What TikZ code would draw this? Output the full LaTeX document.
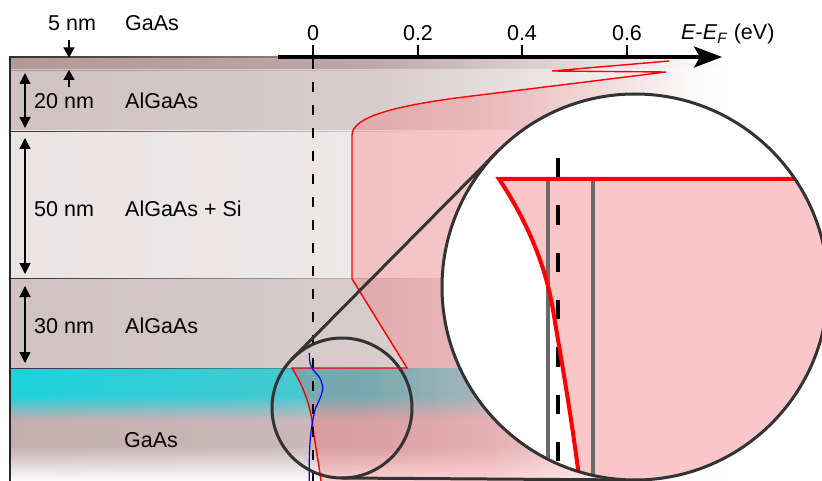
\documentclass[tikz,border=0pt]{standalone}
\usepackage{fontspec}
\setmainfont{Liberation Sans}
\usetikzlibrary{arrows.meta,fadings}
\tikzfading[name=fadeR, left color=transparent!0, right color=transparent!100]
\tikzfading[name=fadeRM, left color=transparent!0, right color=transparent!100, middle color=transparent!0]
\tikzfading[name=fadeD, top color=transparent!0, bottom color=transparent!100]
\tikzfading[name=fadeU, top color=transparent!100, bottom color=transparent!0]
\definecolor{cLa}{RGB}{178,152,153}
\definecolor{cLb}{RGB}{208,194,195}
\definecolor{cLc}{RGB}{234,228,229}
\definecolor{cGa}{RGB}{196,174,176}
\definecolor{cCy}{RGB}{28,210,220}
\definecolor{cPinkO}{RGB}{255,80,85}
\definecolor{cPink}{RGB}{250,198,199}
\definecolor{cRing}{RGB}{51,51,51}
\definecolor{cGray}{RGB}{105,105,105}
\tikzset{
  layer/.style={left color=#1, right color=white, middle color=#1!85!white},
  bline/.style={fill=black!#1, path fading=fadeR},
  ring/.style={draw=cRing, line width=3pt},
  lbl/.style={inner sep=0pt, anchor=base west, font=\fontsize{21.5}{26}\selectfont},
  ticklbl/.style={inner sep=0pt, anchor=base, font=\fontsize{21.5}{26}\selectfont},
  dimarr/.style={line width=1.4pt, arrows={Triangle[length=11pt,width=11pt]-Triangle[length=11pt,width=11pt]}},
  onearr/.style={line width=1.4pt, arrows={-Triangle[length=10pt,width=11pt]}},
  profile/.style={red, line width=1.4pt, line join=miter},
}
\begin{document}
\begin{tikzpicture}[x=1pt,y=-1pt]
\path[use as bounding box] (0,0) rectangle (822,481);
\fill[white] (0,0) rectangle (822,481);

% layers
\shade[layer=cLa] (10,57) rectangle (730,70);
\shade[layer=cLb] (10,70) rectangle (730,131);
\shade[layer=cLc] (10,131) rectangle (730,278);
\shade[layer=cLb] (10,278) rectangle (730,368);
\shade[layer=cGa] (10,368) rectangle (730,481);
\shade[left color=cCy, right color=white, middle color=cCy!70!cGa] (10,368) rectangle (730,396);
\shade[left color=cCy, right color=white, middle color=cCy!70!cGa, path fading=fadeD] (10,395.5) rectangle (730,420);
\fill[white, path fading=fadeU] (0,446) rectangle (822,482);

% boundary lines
\fill[bline=80] (10,56.2) rectangle (420,58);
\fill[bline=40] (10,69.6) rectangle (420,70.6);
\fill[bline=80] (10,130.6) rectangle (420,131.9);
\fill[bline=80] (10,277.6) rectangle (420,278.9);
\fill[bline=80] (10,367.6) rectangle (420,368.9);
\draw[black!85, line width=1.8pt] (10,56.2) -- (10,481);

% band profile fill (one path, opaque left half, fading right half)
\fill[cPinkO, fill opacity=0.25, path fading=fadeRM] (666,72) -- (460,97.5) .. controls (395,106) and (352,117) .. (352,135) -- (352,279) -- (407,368) -- (292,368) .. controls (300,381) and (310,400) .. (313,428) .. controls (316,450) and (319,465) .. (321,481) -- (690,481) -- (690,72) -- cycle;

% band profile
\draw[profile] (669,61) -- (552,71) -- (666,72) -- (460,97.5) .. controls (395,106) and (352,117) .. (352,135) -- (352,279) -- (407,368) -- (292,368) .. controls (300,381) and (310,400) .. (313,428) .. controls (316,450) and (319,465) .. (321,481);

% wavefunction
\draw[blue, line width=1.2pt] plot[smooth] coordinates {(309.3,353) (310,363) (313.3,370) (320,378.3) (322.7,388.3) (320,398.3) (315,410) (311.7,426.7) (310,443) (309.3,460) (309.3,481)};

% Fermi level
\draw[line width=2pt, dash pattern=on 10pt off 13pt] (313,59) -- (313,481);

% axis
\coordinate (ax0) at (278,57);
\coordinate (ax1) at (722,57);
\draw[line width=3.5pt, -{Stealth[length=28pt,width=21pt,inset=6pt]}] (ax0) -- (ax1);
\foreach \xx/\lab in {313/0, 418/0.2, 522/0.4, 627/0.6}{
  \draw[line width=2pt] (\xx,45) -- (\xx,57);
  \node[ticklbl] (t\xx) at (\xx,41) {\lab};
}
\node[lbl] (axlbl) at (681,40) {\textit{E}-\textit{E}\textsubscript{\textit{F}} (eV)};

% zoom connectors and small circle
\coordinate (sc) at (342,408);
\coordinate (bc) at (635,287);
\coordinate (t1) at (292.3,358.7);
\coordinate (t2) at (498,151);
\coordinate (b1) at (341.5,478);
\coordinate (b2) at (633.6,480);
\draw[ring] (t1) -- (t2);
\draw[ring] (b1) -- (b2);
\draw[ring] (sc) circle[radius=70pt];

% big circle
\fill[white] (bc) circle[radius=193pt];
\begin{scope}
\clip (bc) circle[radius=193pt];
\fill[cPink] (499,179) -- (840,179) -- (840,495) -- (580,495) -- (580,485) .. controls (572,420) and (563,370) .. (553,310) .. controls (545,262) and (525,218) .. (499,179) -- cycle;
\draw[cGray, line width=3.2pt] (548,179) -- (548,495);
\draw[cGray, line width=3.2pt] (593,179) -- (593,495);
\draw[line width=3.3pt, dash pattern=on 19.5pt off 27.8pt] (558,158) -- (558,495);
\draw[red, line width=4pt, line join=miter] (840,179) -- (499,179) .. controls (525,218) and (545,262) .. (553,310) .. controls (563,370) and (572,420) .. (580,485) -- (582,500);
\end{scope}
\draw[ring] (bc) circle[radius=193pt];

% labels and dimension arrows
\node[lbl] (n5) at (48,31) {5 nm};
\node[lbl] (g5) at (125,31) {GaAs};
\coordinate (a5a) at (69,40);
\coordinate (a5b) at (69,57.5);
\coordinate (a5c) at (69,87);
\coordinate (a5d) at (69,70);
\draw[onearr] (a5a) -- (a5b);
\draw[onearr] (a5c) -- (a5d);

\coordinate (d20a) at (25,73);
\coordinate (d20b) at (25,128);
\draw[dimarr] (d20a) -- (d20b);
\node[lbl] (n20) at (34,109) {20 nm};
\node[lbl] (m20) at (125,109) {AlGaAs};

\coordinate (d50a) at (25,138);
\coordinate (d50b) at (25,274);
\draw[dimarr] (d50a) -- (d50b);
\node[lbl] (n50) at (34,217) {50 nm};
\node[lbl] (m50) at (125,217) {AlGaAs + Si};

\coordinate (d30a) at (25,286);
\coordinate (d30b) at (25,363);
\draw[dimarr] (d30a) -- (d30b);
\node[lbl] (n30) at (34,333) {30 nm};
\node[lbl] (m30) at (125,333) {AlGaAs};

\node[lbl] (gb) at (124,447) {GaAs};
\end{tikzpicture}
\end{document}
